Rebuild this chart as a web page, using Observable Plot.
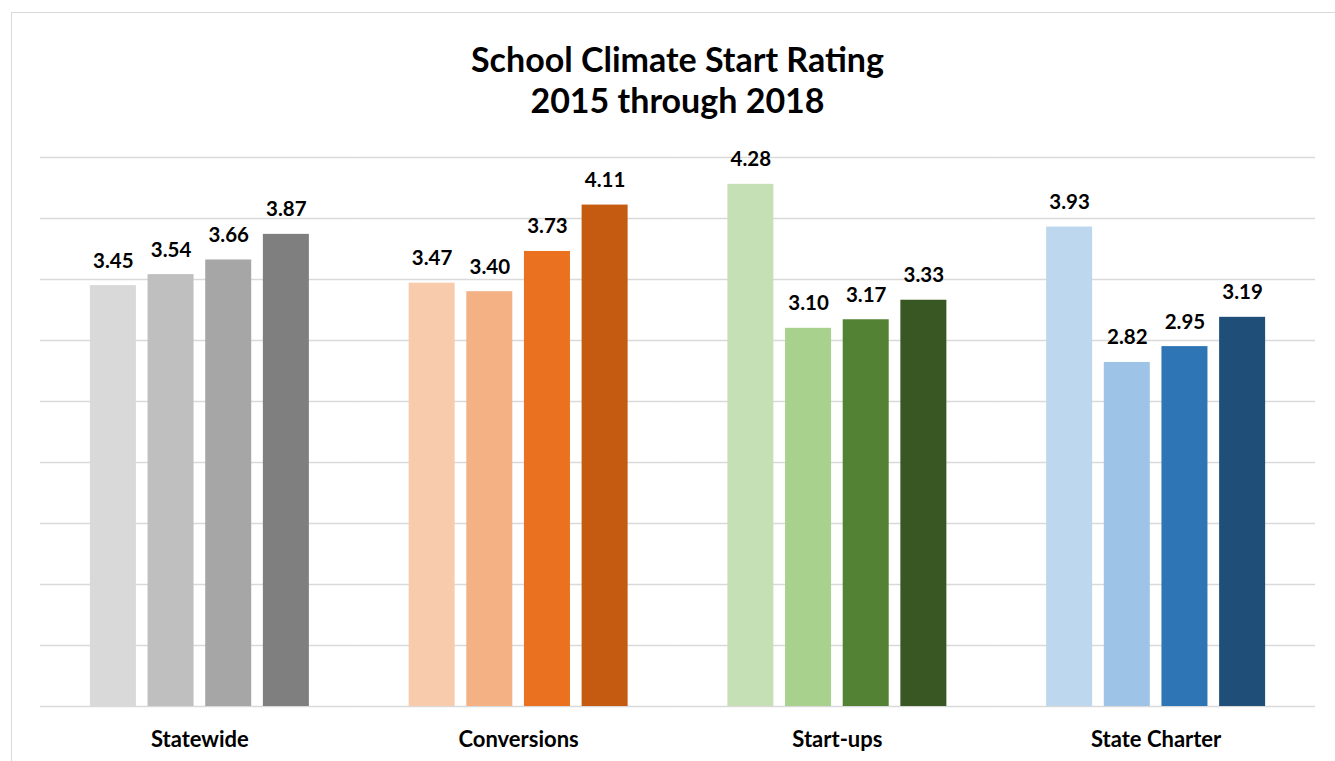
<!DOCTYPE html>
<html><head><meta charset="utf-8">
<script src="https://cdn.jsdelivr.net/npm/d3@7"></script>
<script src="https://cdn.jsdelivr.net/npm/@observablehq/plot@0.6"></script>
<style>
html,body{margin:0;padding:0;background:#fff;overflow:hidden;width:1335px;height:761px;}
body{position:relative;font-family:Lato,"Open Sans",sans-serif;}
#frame{position:absolute;left:11px;top:12px;width:1340px;height:760px;border:1.5px solid #d9d9d9;box-sizing:border-box;}
#title{position:absolute;left:0;width:1355px;top:38px;text-align:center;font-weight:bold;font-size:34px;line-height:41px;color:#000;}
#chart{position:absolute;left:0;top:130px;}
</style></head><body>
<div id="frame"></div>
<div id="title">School Climate Start Rating<br>2015 through 2018</div>
<div id="chart"></div>
<script>
const categories = ["Statewide", "Conversions", "Start-ups", "State Charter"];
const years = ["2015", "2016", "2017", "2018"];
const statewide = [3.45, 3.54, 3.66, 3.87];
const conversions = [3.47, 3.40, 3.73, 4.11];
const startups = [4.28, 3.10, 3.17, 3.33];
const stateCharter = [3.93, 2.82, 2.95, 3.19];
const gridTicks = [0.5, 1, 1.5, 2, 2.5, 3, 3.5, 4, 4.5];

const palettes = [
  ["#d9d9d9", "#bfbfbf", "#a6a6a6", "#7f7f7f"],
  ["#f8cbad", "#f4b183", "#ea7120", "#c55a11"],
  ["#c5e0b4", "#a9d18e", "#548235", "#385723"],
  ["#bdd7ee", "#9dc3e6", "#2e75b6", "#1f4e79"]
];
const series = [statewide, conversions, startups, stateCharter];

const rows = [];
categories.forEach((c, i) => {
  years.forEach((yr, j) => {
    rows.push({category: c, year: yr, value: series[i][j], color: palettes[i][j]});
  });
});

const chart = Plot.plot({
  width: 1335,
  height: 631,
  marginTop: 27,
  marginBottom: 55,
  marginLeft: 40,
  marginRight: 20,
  style: {fontFamily: "Lato, 'Open Sans', sans-serif", background: "transparent", color: "#000"},
  fx: {domain: categories, padding: 0, label: null, round: false},
  x: {domain: years, paddingInner: 0.2023, paddingOuter: 0.865, axis: null, round: false},
  y: {domain: [0, 4.5], axis: null},
  marks: [
    Plot.ruleY(gridTicks, {stroke: "#d9d9d9", strokeWidth: 1.4}),
    Plot.ruleY([0], {stroke: "#d9d9d9", strokeWidth: 1.4}),
    Plot.barY(rows, {fx: "category", x: "year", y: "value", fill: "color"}),
    Plot.text(rows, {
      fx: "category", x: "year", y: "value",
      text: d => d.value.toFixed(2),
      lineAnchor: "bottom", dy: -18,
      fontSize: 20.5, fontWeight: "bold", fill: "#000"
    }),
    Plot.axisFx({
      anchor: "bottom", label: null, tickSize: 0, tickPadding: 24.5,
      fontSize: 22, fontWeight: "bold", fill: "#000"
    })
  ]
});
document.getElementById("chart").appendChild(chart);
</script>
</body></html>
